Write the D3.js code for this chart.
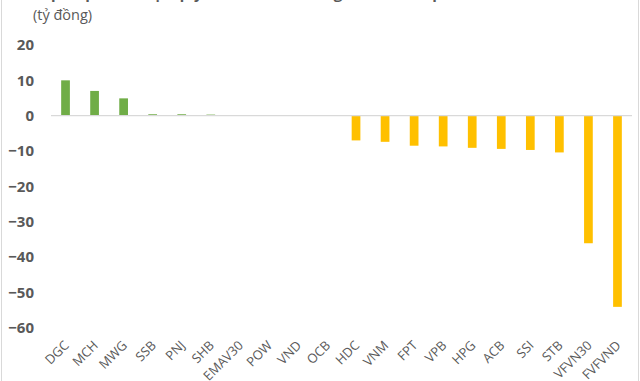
<!DOCTYPE html>
<html>
<head>
<meta charset="utf-8">
<script src="https://cdn.jsdelivr.net/npm/d3@7"></script>
<style>
  html, body { margin: 0; padding: 0; background: #fff; overflow: hidden; }
  svg { display: block; }
</style>
</head>
<body>
<svg id="chart" width="640" height="381"></svg>
<script>
const categories = ["DGC","MCH","MWG","SSB","PNJ","SHB","EMAV30","POW","VND","OCB","HDC","VNM","FPT","VPB","HPG","ACB","SSI","STB","VFVN30","FVFVND"];
const values = [10.0, 7.0, 4.9, 0.4, 0.4, 0.3, 0, 0, 0, 0, -7.0, -7.4, -8.5, -8.7, -9.1, -9.4, -9.7, -10.4, -36.1, -54.1];
const yTicks = [20, 10, 0, -10, -20, -30, -40, -50, -60];
const unitLabel = "(tỷ đồng)";
const titleText = "Top cổ phiếu được quỹ ETF mua/bán ròng nhiều nhất phiên";

const svg = d3.select("#chart");
const W = 640, H = 381;

// frame lines
svg.append("line").attr("x1", 1.5).attr("x2", 1.5).attr("y1", 0).attr("y2", H)
  .attr("stroke", "#d9d9d9").attr("stroke-width", 1);
svg.append("line").attr("x1", 638.5).attr("x2", 638.5).attr("y1", 0).attr("y2", H)
  .attr("stroke", "#d9d9d9").attr("stroke-width", 1);

// clipped title (only descenders visible)
svg.append("text").attr("x", 33).attr("y", -1)
  .attr("font-family", "'Open Sans', sans-serif").attr("font-size", 15)
  .attr("font-weight", "bold").attr("fill", "#595959")
  .text(titleText);

svg.append("text").attr("x", 33).attr("y", 20)
  .attr("font-family", "'Open Sans', sans-serif").attr("font-size", 14.5)
  .attr("fill", "#595959")
  .text(unitLabel);

const x = d3.scaleBand().domain(categories).range([51, 632])
  .paddingInner(0.7).paddingOuter(0.35);
const y = d3.scaleLinear().domain([-60, 20]).range([327.7, 45]);

// y axis labels
const yAxis = d3.axisLeft(y).tickValues(yTicks).tickSize(0).tickPadding(0);
const gy = svg.append("g").attr("transform", "translate(34,0)").call(yAxis);
gy.select(".domain").remove();
gy.selectAll("text")
  .attr("font-family", "'Open Sans', sans-serif").attr("font-size", 15)
  .attr("font-weight", "bold").attr("fill", "#595959");

// bars
svg.append("g").selectAll("rect").data(categories).join("rect")
  .attr("x", d => x(d))
  .attr("width", x.bandwidth())
  .attr("y", (d, i) => y(Math.max(0, values[i])))
  .attr("height", (d, i) => Math.abs(y(values[i]) - y(0)))
  .attr("fill", (d, i) => values[i] >= 0 ? "#70AD47" : "#FFC000");

// zero line
svg.append("line").attr("x1", 51).attr("x2", 632)
  .attr("y1", y(0)).attr("y2", y(0))
  .attr("stroke", "#d9d9d9").attr("stroke-width", 1.2);

// x axis labels
const xAxis = d3.axisBottom(x).tickSize(0).tickPadding(0);
const gx = svg.append("g").attr("transform", "translate(0,343)").call(xAxis);
gx.select(".domain").remove();
gx.selectAll("text")
  .attr("font-family", "'Open Sans', sans-serif").attr("font-size", 13)
  .attr("font-weight", 500)
  .attr("fill", "#595959")
  .attr("text-anchor", "end")
  .attr("dy", "0.35em")
  .attr("transform", "translate(1,0) rotate(-45)");
</script>
</body>
</html>
